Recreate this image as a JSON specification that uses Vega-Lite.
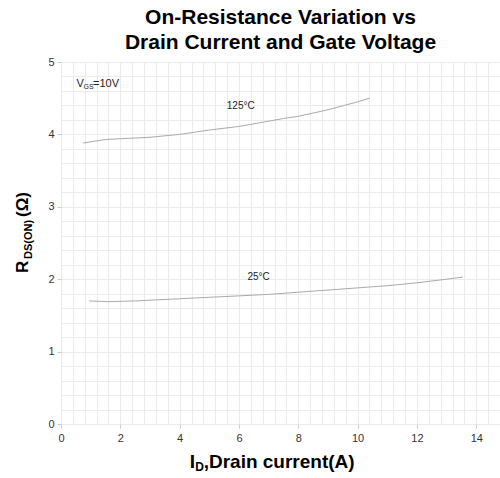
{
  "$schema": "https://vega.github.io/schema/vega-lite/v6.json",
  "autosize": {"type": "none"},
  "width": 439,
  "height": 362,
  "padding": {"left": 61, "top": 62, "right": 0, "bottom": 54},
  "background": "white",
  "title": {
    "text": ["On-Resistance Variation vs", "Drain Current and Gate Voltage"],
    "font": "Liberation Sans",
    "fontSize": 21,
    "fontWeight": "bold",
    "color": "#000000",
    "lineHeight": 25,
    "anchor": "middle",
    "offset": 3
  },
  "config": {
    "view": {"stroke": null},
    "font": "Liberation Sans"
  },
  "resolve": {"axis": {"x": "independent", "y": "independent"}},
  "datasets": {
    "curves": [
      {"series": "125°C", "id": 0.75, "r": 3.88},
      {"series": "125°C", "id": 1.5, "r": 3.93},
      {"series": "125°C", "id": 2.0, "r": 3.94},
      {"series": "125°C", "id": 3.0, "r": 3.96},
      {"series": "125°C", "id": 4.0, "r": 4.0},
      {"series": "125°C", "id": 5.0, "r": 4.06},
      {"series": "125°C", "id": 6.0, "r": 4.11},
      {"series": "125°C", "id": 6.7, "r": 4.16},
      {"series": "125°C", "id": 7.5, "r": 4.22},
      {"series": "125°C", "id": 8.0, "r": 4.25},
      {"series": "125°C", "id": 9.0, "r": 4.34},
      {"series": "125°C", "id": 10.0, "r": 4.45},
      {"series": "125°C", "id": 10.4, "r": 4.5},
      {"series": "25°C", "id": 0.95, "r": 1.70},
      {"series": "25°C", "id": 1.6, "r": 1.69},
      {"series": "25°C", "id": 2.5, "r": 1.70},
      {"series": "25°C", "id": 4.0, "r": 1.73},
      {"series": "25°C", "id": 5.0, "r": 1.75},
      {"series": "25°C", "id": 6.0, "r": 1.77},
      {"series": "25°C", "id": 7.0, "r": 1.79},
      {"series": "25°C", "id": 8.0, "r": 1.82},
      {"series": "25°C", "id": 9.0, "r": 1.85},
      {"series": "25°C", "id": 10.0, "r": 1.88},
      {"series": "25°C", "id": 11.0, "r": 1.91},
      {"series": "25°C", "id": 12.0, "r": 1.95},
      {"series": "25°C", "id": 13.0, "r": 2.0},
      {"series": "25°C", "id": 13.55, "r": 2.03}
    ],
    "one": [{}]
  },
  "layer": [
    {
      "data": {"name": "curves"},
      "mark": {"type": "line", "color": "#aaaaaa", "strokeWidth": 1, "clip": false},
      "encoding": {
        "x": {
          "field": "id", "type": "quantitative",
          "scale": {"domain": [0, 14.8], "nice": false, "zero": false},
          "axis": {
            "title": null,
            "values": [0,0.4,0.8,1.2,1.6,2,2.4,2.8,3.2,3.6,4,4.4,4.8,5.2,5.6,6,6.4,6.8,7.2,7.6,8,8.4,8.8,9.2,9.6,10,10.4,10.8,11.2,11.6,12,12.4,12.8,13.2,13.6,14,14.4,14.8],
            "tickCount": 200,
            "labelExpr": "datum.value % 2 === 0 ? format(datum.value, 'd') : ''",
            "grid": true,
            "gridColor": "#ebebeb",
            "gridWidth": 1,
            "domain": false,
            "tickSize": 4,
            "tickColor": {"condition": {"test": "datum.value % 2 === 0", "value": "#cccccc"}, "value": "transparent"},
            "labelFont": "Liberation Sans",
            "labelFontSize": 11,
            "labelColor": "#333333",
            "labelPadding": 4,
            "labelFlush": false,
            "labelOverlap": false
          }
        },
        "y": {
          "field": "r", "type": "quantitative",
          "scale": {"domain": [0, 5], "nice": false},
          "axis": {
            "title": null,
            "values": [0,0.2,0.4,0.6,0.8,1,1.2,1.4,1.6,1.8,2,2.2,2.4,2.6,2.8,3,3.2,3.4,3.6,3.8,4,4.2,4.4,4.6,4.8,5],
            "tickCount": 200,
            "labelExpr": "datum.value % 1 === 0 ? format(datum.value, 'd') : ''",
            "grid": true,
            "gridColor": "#ebebeb",
            "gridWidth": 1,
            "domain": false,
            "tickSize": 4,
            "tickColor": {"condition": {"test": "datum.value % 1 === 0", "value": "#cccccc"}, "value": "transparent"},
            "labelFont": "Liberation Sans",
            "labelFontSize": 11,
            "labelColor": "#333333",
            "labelPadding": 3,
            "labelFlush": false,
            "labelOverlap": false
          }
        },
        "detail": {"field": "series", "type": "nominal"}
      }
    },
    {
      "data": {"name": "one"},
      "mark": {"type": "text", "text": "125°C", "font": "Liberation Sans", "fontSize": 10, "color": "#222222", "align": "center", "baseline": "alphabetic"},
      "encoding": {"x": {"datum": 6.06, "axis": null}, "y": {"datum": 4.35, "axis": null}}
    },
    {
      "data": {"name": "one"},
      "mark": {"type": "text", "text": "25°C", "font": "Liberation Sans", "fontSize": 10, "color": "#222222", "align": "center", "baseline": "alphabetic"},
      "encoding": {"x": {"datum": 6.66, "axis": null}, "y": {"datum": 1.99, "axis": null}}
    },
    {
      "data": {"name": "one"},
      "mark": {"type": "text", "text": "V", "font": "Liberation Sans", "fontSize": 11, "color": "#222222", "align": "left", "baseline": "alphabetic"},
      "encoding": {"x": {"datum": 0.52, "axis": null}, "y": {"datum": 4.655, "axis": null}}
    },
    {
      "data": {"name": "one"},
      "mark": {"type": "text", "text": "GS", "font": "Liberation Sans", "fontSize": 7, "color": "#222222", "align": "left", "baseline": "alphabetic"},
      "encoding": {"x": {"datum": 0.76, "axis": null}, "y": {"datum": 4.63, "axis": null}}
    },
    {
      "data": {"name": "one"},
      "mark": {"type": "text", "text": "=10V", "font": "Liberation Sans", "fontSize": 11, "color": "#222222", "align": "left", "baseline": "alphabetic"},
      "encoding": {"x": {"datum": 1.08, "axis": null}, "y": {"datum": 4.655, "axis": null}}
    },
    {
      "data": {"name": "one"},
      "mark": {"type": "text", "text": "I", "font": "Liberation Sans", "fontSize": 19, "fontWeight": "bold", "color": "#000000", "align": "left", "baseline": "alphabetic", "clip": false},
      "encoding": {"x": {"datum": 4.34, "axis": null}, "y": {"datum": -0.608, "axis": null}}
    },
    {
      "data": {"name": "one"},
      "mark": {"type": "text", "text": "D", "font": "Liberation Sans", "fontSize": 12, "fontWeight": "bold", "color": "#000000", "align": "left", "baseline": "alphabetic", "clip": false},
      "encoding": {"x": {"datum": 4.53, "axis": null}, "y": {"datum": -0.65, "axis": null}}
    },
    {
      "data": {"name": "one"},
      "mark": {"type": "text", "text": ",Drain current(A)", "font": "Liberation Sans", "fontSize": 19, "fontWeight": "bold", "color": "#000000", "align": "left", "baseline": "alphabetic", "clip": false},
      "encoding": {"x": {"datum": 4.81, "axis": null}, "y": {"datum": -0.608, "axis": null}}
    },
    {
      "data": {"name": "one"},
      "mark": {"type": "text", "text": "R", "font": "Liberation Sans", "fontSize": 17, "fontWeight": "bold", "color": "#000000", "align": "left", "baseline": "alphabetic", "angle": 270, "clip": false},
      "encoding": {"x": {"datum": -1.11, "axis": null}, "y": {"datum": 2.086, "axis": null}}
    },
    {
      "data": {"name": "one"},
      "mark": {"type": "text", "text": "DS(ON)", "font": "Liberation Sans", "fontSize": 11, "fontWeight": "bold", "color": "#000000", "align": "left", "baseline": "alphabetic", "angle": 270, "clip": false},
      "encoding": {"x": {"datum": -0.98, "axis": null}, "y": {"datum": 2.28, "axis": null}}
    },
    {
      "data": {"name": "one"},
      "mark": {"type": "text", "text": "(Ω)", "font": "Liberation Sans", "fontSize": 17, "fontWeight": "bold", "color": "#000000", "align": "left", "baseline": "alphabetic", "angle": 270, "clip": false},
      "encoding": {"x": {"datum": -1.11, "axis": null}, "y": {"datum": 2.86, "axis": null}}
    }
  ]
}
